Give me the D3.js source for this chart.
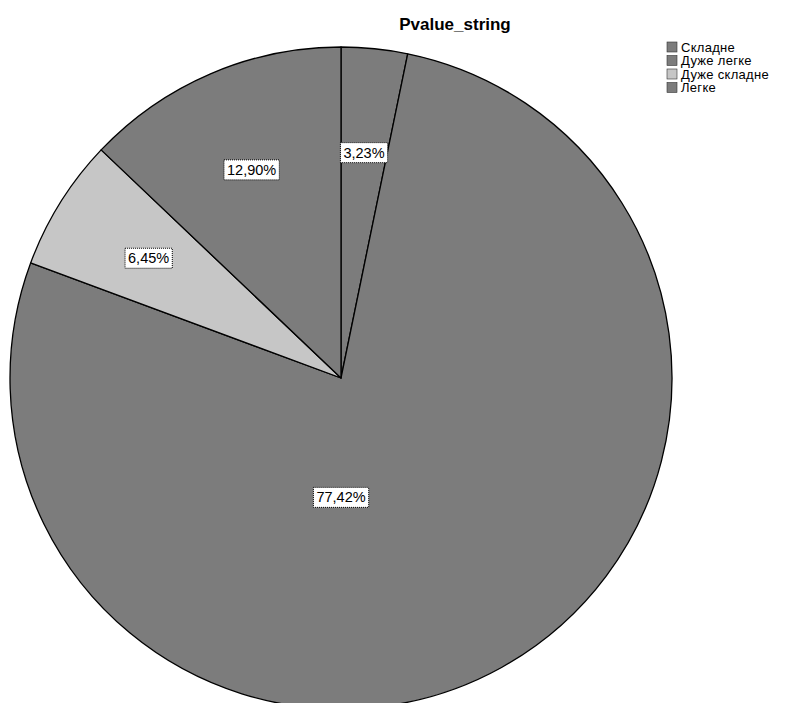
<!DOCTYPE html>
<html>
<head>
<meta charset="utf-8">
<script src="https://cdn.jsdelivr.net/npm/d3@7/dist/d3.min.js"></script>
<style>
  html, body { margin: 0; padding: 0; background: #ffffff; }
  svg { display: block; }
</style>
</head>
<body>
<svg id="chart" width="796" height="703"></svg>
<script>
const title = "Pvalue_string";
const categories = ["Складне", "Дуже легке", "Дуже складне", "Легке"];
const percents = [3.23, 77.42, 6.45, 12.90];
const labels = ["3,23%", "77,42%", "6,45%", "12,90%"];
const fills = ["#7c7c7c", "#7c7c7c", "#c6c6c6", "#7c7c7c"];

const svg = d3.select("#chart");
const cx = 341, cy = 378, R = 331;

const data = categories.map((c, i) => ({ cat: c, value: percents[i], label: labels[i], fill: fills[i] }));

const pie = d3.pie().value(d => d.value).sort(null).startAngle(0).endAngle(2 * Math.PI);
const arcs = pie(data);
const arc = d3.arc().innerRadius(0).outerRadius(R);

const g = svg.append("g").attr("transform", `translate(${cx},${cy})`);

g.selectAll("path.slice")
  .data(arcs)
  .join("path")
  .attr("class", "slice")
  .attr("d", arc)
  .attr("fill", d => d.data.fill)
  .attr("stroke", "#000")
  .attr("stroke-width", 1.3)
  .attr("stroke-linejoin", "round");

const total = d3.sum(percents);
const labelPos = d => {
  const share = d.data.value / total;
  const a = share > 0.5 ? Math.PI : (d.startAngle + d.endAngle) / 2;
  const r = share > 0.5 ? 0.36 * R : 0.685 * R;
  return [r * Math.sin(a), -r * Math.cos(a)];
};

const lg = g.selectAll("g.lbl")
  .data(arcs)
  .join("g")
  .attr("class", "lbl")
  .attr("transform", d => `translate(${labelPos(d)})`);

lg.each(function (d) {
  const sel = d3.select(this);
  const t = sel.append("text")
    .attr("text-anchor", "middle")
    .attr("dy", "0.36em")
    .attr("font-family", "Liberation Sans, Arial, sans-serif")
    .attr("font-size", 14.5)
    .attr("fill", "#000")
    .text(d.data.label);
  const bb = t.node().getBBox();
  sel.insert("rect", "text")
    .attr("x", bb.x - 3)
    .attr("y", bb.y - 2)
    .attr("width", bb.width + 6)
    .attr("height", bb.height + 4)
    .attr("fill", "#fff")
    .attr("stroke", "#000")
    .attr("stroke-width", 1)
    .attr("stroke-dasharray", "1,1");
});

svg.append("text")
  .attr("x", 455)
  .attr("y", 30)
  .attr("text-anchor", "middle")
  .attr("font-family", "Liberation Sans, Arial, sans-serif")
  .attr("font-weight", "bold")
  .attr("font-size", 17)
  .attr("fill", "#000")
  .text(title);

const legend = svg.append("g").attr("transform", "translate(667,42)");
const li = legend.selectAll("g")
  .data(data)
  .join("g")
  .attr("transform", (d, i) => `translate(0,${i * 13.5})`);
li.append("rect")
  .attr("x", 0).attr("y", 0)
  .attr("width", 10).attr("height", 10)
  .attr("fill", d => d.fill)
  .attr("stroke", "#333")
  .attr("stroke-width", 0.6);
li.append("text")
  .attr("x", 14).attr("y", 5)
  .attr("dy", "0.36em")
  .attr("font-family", "Liberation Sans, Arial, sans-serif")
  .attr("font-size", 13)
  .attr("letter-spacing", 0.3)
  .attr("fill", "#000")
  .text(d => d.cat);
</script>
</body>
</html>
